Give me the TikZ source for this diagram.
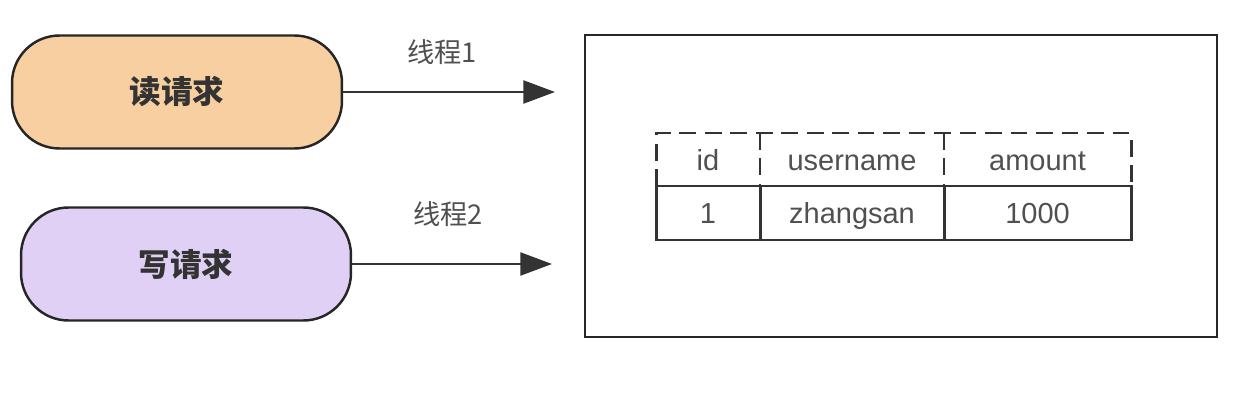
\documentclass[tikz,border=0pt]{standalone}
\usepackage{fontspec}
\setmainfont{Liberation Sans}
\newfontfamily\cjk{Noto Sans CJK SC}
\usetikzlibrary{arrows.meta}
\definecolor{readfill}{HTML}{F8CFA1}
\definecolor{writefill}{HTML}{E1D0F6}
\definecolor{txt}{HTML}{505050}

\begin{document}
\begin{tikzpicture}[x=0.02cm,y=-0.02cm,
  req/.style={draw=black!85,line width=1.4pt,rounded corners=0.95cm,minimum width=6.6cm,minimum height=2.26cm,font=\cjk\bfseries\fontsize{18}{20}\selectfont,text=black!80},
  thread/.style={font=\cjk\fontsize{15.5}{18}\selectfont,text=txt},
  cell/.style={font=\fontsize{16.5}{19}\selectfont,text=txt,text height=12pt,text depth=3.5pt},
  flow/.style={line width=1.6pt,draw=black!80,-{Triangle[length=18pt,width=13pt]}},
  tab/.style={line width=1.7pt,draw=black!80},
  dashtab/.style={tab,dash pattern=on 9.5pt off 5pt}]
\useasboundingbox (0,0) rectangle (1253,401);

\node[req,fill=readfill] (read) at (177,92) {\cjk 读请求};
\node[req,fill=writefill] (write) at (186,264) {\cjk 写请求};

\node[draw=black!85,line width=1.4pt,minimum width=12.64cm,minimum height=6.04cm] (db) at (901,186) {};

\coordinate (t1) at (555,92);
\coordinate (t2) at (552,264);
\draw[flow] (read.east) -- (t1);
\draw[flow] (write.east) -- (t2);
\node[thread] (l1) at (442,52) {线程1};
\node[thread] (l2) at (448,214) {线程2};

% table
\draw[dashtab] (656,186) -- (656,133) -- (1131,133) -- (1131,186);
\draw[dashtab,line width=0.9pt] (760,133) -- (760,186);
\draw[dashtab,line width=0.9pt] (944,133) -- (944,186);
\draw[tab] (656,186) rectangle (1131,240);
\draw[tab] (760,186) -- (760,240);
\draw[tab] (944,186) -- (944,240);

\node[cell] (hid) at (708,163) {id};
\node[cell] (hname) at (852,163) {username};
\node[cell] (hamount) at (1037.5,163) {amount};
\node[cell] (vid) at (708,216) {1};
\node[cell] (vname) at (852,216) {zhangsan};
\node[cell] (vamount) at (1037.5,216) {1000};
\end{tikzpicture}
\end{document}
